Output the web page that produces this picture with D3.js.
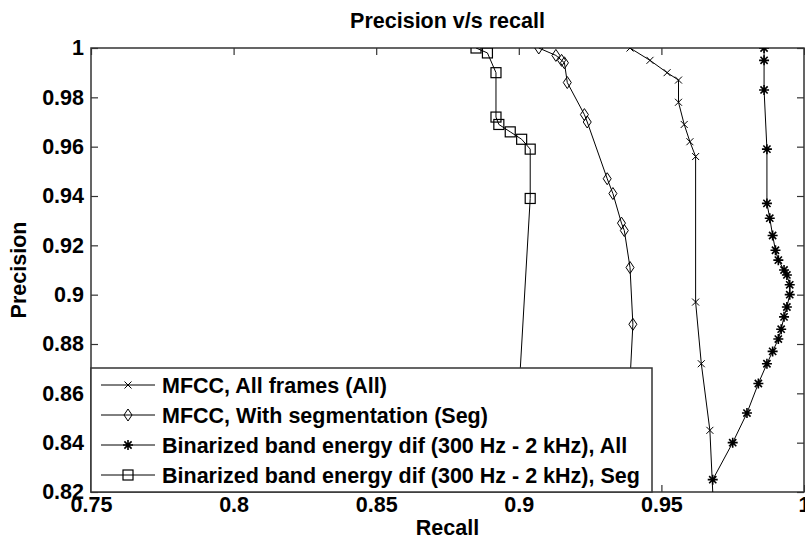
<!DOCTYPE html>
<html>
<head>
<meta charset="utf-8">
<script src="https://cdn.jsdelivr.net/npm/d3@7"></script>
<style>
  body { margin: 0; background: #fff; }
  text { font-family: "Liberation Sans", Arial, sans-serif; font-weight: bold; fill: #000; }
</style>
</head>
<body>
<div id="chart"></div>
<script>
// tick values
const xTicks = [0.75, 0.8, 0.85, 0.9, 0.95, 1];
const yTicks = [0.82, 0.84, 0.86, 0.88, 0.9, 0.92, 0.94, 0.96, 0.98, 1];

// MFCC, All frames (All)
const mfccAllRecall = [0.939, 0.946, 0.952, 0.956, 0.956, 0.958, 0.960, 0.962, 0.962, 0.964, 0.967, 0.968];
const mfccAllPrecision = [1.000, 0.995, 0.990, 0.987, 0.978, 0.969, 0.962, 0.956, 0.897, 0.872, 0.845, 0.820];

// MFCC, With segmentation (Seg)
const mfccSegRecall = [0.907, 0.913, 0.915, 0.916, 0.917, 0.923, 0.924, 0.931, 0.933, 0.936, 0.937, 0.939, 0.940, 0.937];
const mfccSegPrecision = [1.000, 0.997, 0.995, 0.994, 0.986, 0.973, 0.970, 0.947, 0.941, 0.929, 0.926, 0.911, 0.888, 0.820];

// Binarized band energy dif, All
const binAllRecall = [0.986, 0.986, 0.986, 0.987, 0.987, 0.988, 0.989, 0.990, 0.991, 0.993, 0.994, 0.995, 0.995,
  0.994, 0.993, 0.992, 0.991, 0.989, 0.987, 0.984, 0.980, 0.975, 0.968];
const binAllPrecision = [1.000, 0.995, 0.983, 0.959, 0.937, 0.931, 0.924, 0.918, 0.914, 0.910, 0.908, 0.904, 0.900,
  0.895, 0.891, 0.886, 0.882, 0.877, 0.872, 0.864, 0.852, 0.840, 0.825];

// Binarized band energy dif, Seg
const binSegRecall = [0.885, 0.889, 0.892, 0.892, 0.893, 0.897, 0.901, 0.904, 0.904, 0.898];
const binSegPrecision = [1.000, 0.998, 0.990, 0.972, 0.969, 0.966, 0.963, 0.959, 0.939, 0.820];

const seriesNames = [
  'MFCC, All frames (All)',
  'MFCC, With segmentation (Seg)',
  'Binarized band energy dif (300 Hz - 2 kHz), All',
  'Binarized band energy dif (300 Hz - 2 kHz), Seg'
];
const markerTypes = ['x', 'diamond', 'star', 'square'];

class Chart {
  constructor(opts) {
    this.series = opts.series;
    this.element = opts.element;
    this.draw();
  }

  draw() {
    this.width = 805;
    this.height = 541;
    this.margin = { top: 48, right: 1, bottom: 49, left: 91 };
    this.innerWidth = this.width - this.margin.left - this.margin.right;
    this.innerHeight = this.height - this.margin.top - this.margin.bottom;

    const svg = d3.select(this.element).append('svg')
      .attr('width', this.width)
      .attr('height', this.height);
    this.svg = svg;

    this.plot = svg.append('g')
      .attr('transform', `translate(${this.margin.left},${this.margin.top})`);

    this.plot.append('clipPath').attr('id', 'clip')
      .append('rect')
      .attr('width', this.innerWidth)
      .attr('height', this.innerHeight);

    this.createScales();
    this.addAxes();
    this.addLines();
    this.addLegend();
    this.addLabels();
  }

  createScales() {
    this.xScale = d3.scaleLinear().domain([0.75, 1]).range([0, this.innerWidth]);
    this.yScale = d3.scaleLinear().domain([0.82, 1]).range([this.innerHeight, 0]);
  }

  addAxes() {
    const fmt = d => String(+d.toFixed(2));
    const tick = 7;

    const bottom = this.plot.append('g')
      .attr('class', 'x axis')
      .attr('transform', `translate(0,${this.innerHeight})`)
      .call(d3.axisBottom(this.xScale).tickValues(xTicks).tickFormat(fmt).tickSize(-tick).tickPadding(5));
    const top = this.plot.append('g')
      .call(d3.axisTop(this.xScale).tickValues(xTicks).tickFormat('').tickSize(-tick));
    const left = this.plot.append('g')
      .attr('class', 'y axis')
      .call(d3.axisLeft(this.yScale).tickValues(yTicks).tickFormat(fmt).tickSize(-tick).tickPadding(7));
    const right = this.plot.append('g')
      .attr('transform', `translate(${this.innerWidth},0)`)
      .call(d3.axisRight(this.yScale).tickValues(yTicks).tickFormat('').tickSize(-tick));

    [bottom, top, left, right].forEach(g => {
      g.select('.domain').remove();
      g.selectAll('line').attr('stroke', '#333').attr('stroke-width', 1.2);
      g.selectAll('text').style('font-size', '21.5px').attr('fill', '#000');
    });

    // box
    this.plot.append('rect')
      .attr('width', this.innerWidth)
      .attr('height', this.innerHeight)
      .attr('fill', 'none')
      .attr('stroke', '#333')
      .attr('stroke-width', 1.5);
  }

  marker(g, type) {
    if (type === 'x') {
      g.append('path').attr('d', 'M-3.5,-3.5L3.5,3.5M-3.5,3.5L3.5,-3.5')
        .attr('stroke', '#000').attr('stroke-width', 1);
    } else if (type === 'diamond') {
      g.append('path').attr('d', 'M0,-6L4,0L0,6L-4,0Z')
        .attr('fill', 'none').attr('stroke', '#000').attr('stroke-width', 1);
    } else if (type === 'star') {
      g.append('path').attr('d', 'M-5,0L5,0M0,-5L0,5M-3.6,-3.6L3.6,3.6M-3.6,3.6L3.6,-3.6')
        .attr('stroke', '#000').attr('stroke-width', 1.6);
    } else if (type === 'square') {
      g.append('rect').attr('x', -5).attr('y', -5).attr('width', 10).attr('height', 10)
        .attr('fill', 'none').attr('stroke', '#000').attr('stroke-width', 1.2);
    }
  }

  addLines() {
    const line = d3.line()
      .x(d => this.xScale(d.r))
      .y(d => this.yScale(d.p));

    const layer = this.plot.append('g').attr('clip-path', 'url(#clip)');

    this.series.forEach(s => {
      layer.append('path')
        .datum(s.values)
        .attr('fill', 'none')
        .attr('stroke', '#000')
        .attr('stroke-width', 1)
        .attr('d', line);

      const pts = layer.selectAll(null)
        .data(s.values.filter(d => d.p > 0.8201))
        .enter().append('g')
        .attr('transform', d => `translate(${this.xScale(d.r)},${this.yScale(d.p)})`);
      const self = this;
      pts.each(function() { self.marker(d3.select(this), s.marker); });
    });
  }

  addLegend() {
    const lg = this.plot.append('g').attr('class', 'legend');
    const w = 561, h = 124;
    lg.append('rect')
      .attr('x', 0).attr('y', this.innerHeight - h)
      .attr('width', w).attr('height', h)
      .attr('fill', '#fff').attr('stroke', '#333').attr('stroke-width', 1.5);

    this.series.forEach((s, i) => {
      const cy = this.innerHeight - h + 17 + i * 30;
      const row = lg.append('g').attr('transform', `translate(0,${cy})`);
      row.append('line').attr('x1', 10).attr('x2', 64).attr('y1', 0).attr('y2', 0)
        .attr('stroke', '#000').attr('stroke-width', 1);
      this.marker(row.append('g').attr('transform', 'translate(37,0)'), s.marker);
      row.append('text')
        .attr('x', 71).attr('y', 8)
        .style('font-size', '21.5px')
        .text(s.name);
    });
  }

  addLabels() {
    const cx = this.margin.left + this.innerWidth / 2;
    this.svg.append('text')
      .attr('x', cx).attr('y', 28)
      .attr('text-anchor', 'middle')
      .style('font-size', '21.5px')
      .text('Precision v/s recall');

    this.svg.append('text')
      .attr('x', cx).attr('y', 535)
      .attr('text-anchor', 'middle')
      .style('font-size', '21.5px')
      .text('Recall');

    this.svg.append('text')
      .attr('transform', `translate(26,${this.margin.top + this.innerHeight / 2}) rotate(-90)`)
      .attr('text-anchor', 'middle')
      .style('font-size', '21.5px')
      .text('Precision');
  }
}

const zipSeries = (rs, ps) => rs.map((r, i) => ({ r: r, p: ps[i] }));

new Chart({
  element: '#chart',
  series: [
    { name: seriesNames[0], marker: markerTypes[0], values: zipSeries(mfccAllRecall, mfccAllPrecision) },
    { name: seriesNames[1], marker: markerTypes[1], values: zipSeries(mfccSegRecall, mfccSegPrecision) },
    { name: seriesNames[2], marker: markerTypes[2], values: zipSeries(binAllRecall, binAllPrecision) },
    { name: seriesNames[3], marker: markerTypes[3], values: zipSeries(binSegRecall, binSegPrecision) }
  ]
});
</script>
</body>
</html>
